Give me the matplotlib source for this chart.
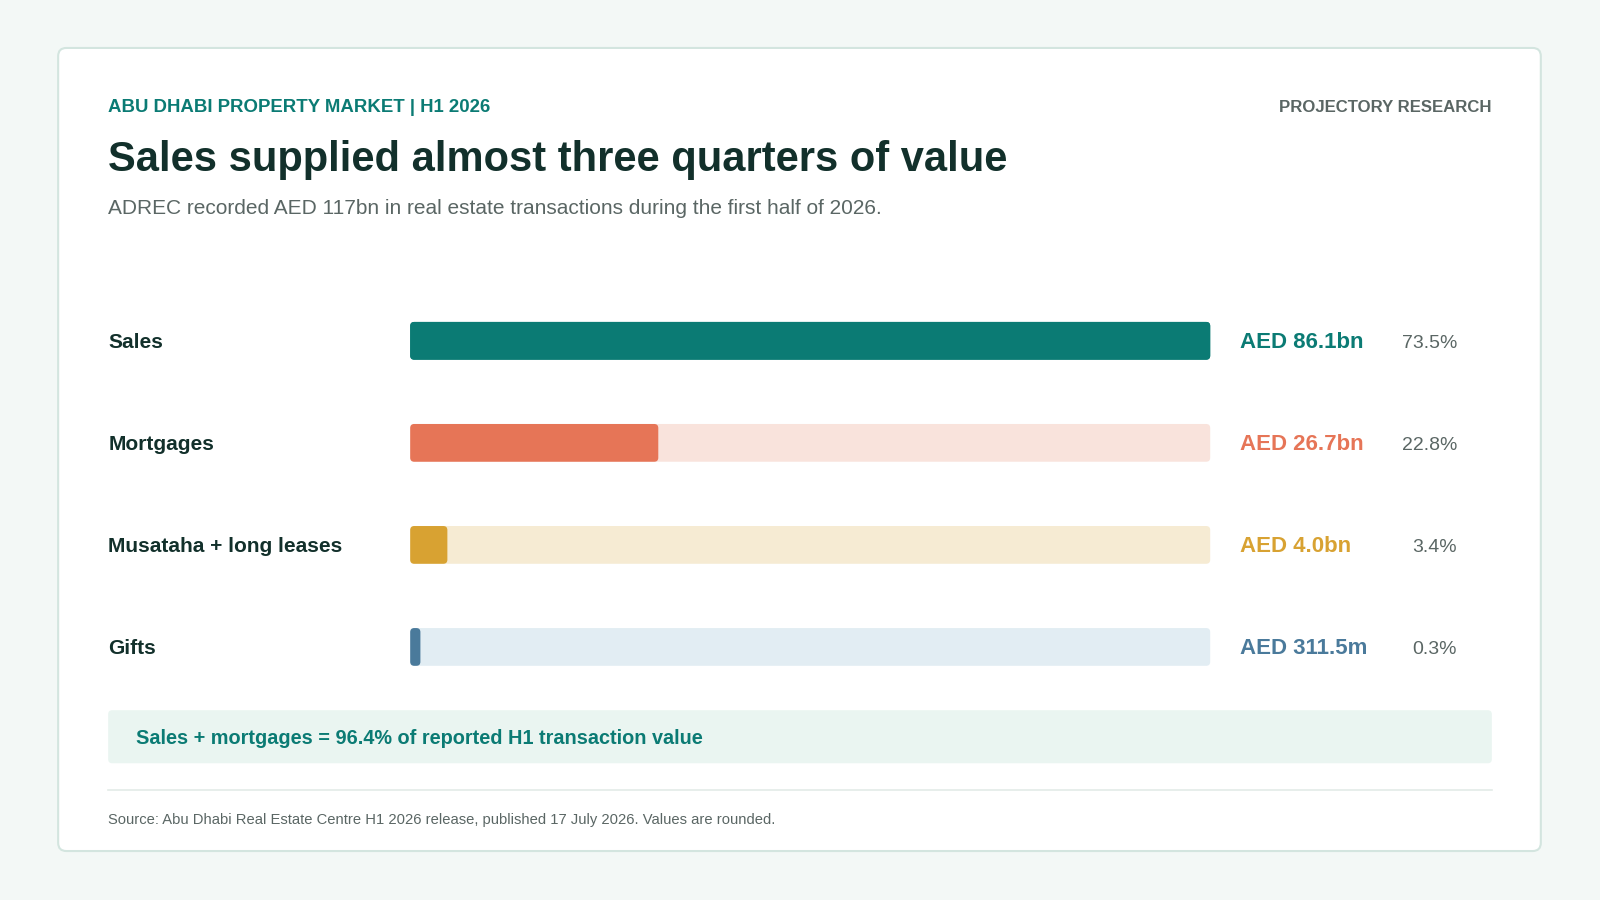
import matplotlib.pyplot as plt
from matplotlib.patches import FancyBboxPatch

plt.rcParams['font.family'] = ['Liberation Sans', 'DejaVu Sans']

categories = ["Sales", "Mortgages", "Musataha + long leases", "Gifts"]
values_bn = [86.1, 26.7, 4.0, 0.3115]
value_labels = ["AED 86.1bn", "AED 26.7bn", "AED 4.0bn", "AED 311.5m"]
shares = ["73.5%", "22.8%", "3.4%", "0.3%"]
colors = ["#0b7b74", "#e67557", "#d8a232", "#4a7a9b"]
tracks = ["#0b7b74", "#f9e3dc", "#f6ebd3", "#e2edf3"]

W, H = 1568, 882
fig = plt.figure(figsize=(16, 9), dpi=100)
fig.patch.set_facecolor("#f3f8f6")
ax = fig.add_axes([0, 0, 1, 1])
ax.set_xlim(0, W)
ax.set_ylim(H, 0)
ax.axis("off")

# card
ax.add_patch(FancyBboxPatch((57, 47), 1453, 787, boxstyle="round,pad=0,rounding_size=8",
                            fc="white", ec="#d3e5df", lw=1.5))

dark = "#12302b"
ax.text(106, 105, "ABU DHABI PROPERTY MARKET | H1 2026", fontsize=13.4, fontweight="bold",
        color="#0b7b74", va="center")
ax.text(1462, 105, "PROJECTORY RESEARCH", fontsize=12.1, fontweight="bold",
        color="#5a6664", va="center", ha="right")
ax.text(106, 157, "Sales supplied almost three quarters of value", fontsize=30, fontweight="bold",
        color=dark, va="center")
ax.text(106, 204, "ADREC recorded AED 117bn in real estate transactions during the first half of 2026.",
        fontsize=15, color="#5a6664", va="center")

x0, track_w, bar_h = 402, 784, 37
vmax = max(values_bn)
for i, (cat, v) in enumerate(zip(categories, values_bn)):
    yc = 334 + i * 100
    ax.text(106, yc + 2, cat, fontsize=15, fontweight="bold", color=dark, va="center")
    ax.add_patch(FancyBboxPatch((x0, yc - bar_h / 2), track_w, bar_h,
                                boxstyle="round,pad=0,rounding_size=4", fc=tracks[i], ec="none"))
    w = max(v / vmax * track_w, 10)
    ax.add_patch(FancyBboxPatch((x0, yc - bar_h / 2), w, bar_h,
                                boxstyle="round,pad=0,rounding_size=4", fc=colors[i], ec="none"))
    ax.text(1215, yc + 2, value_labels[i], fontsize=16, fontweight="bold", color=colors[i], va="center")
    ax.text(1428, yc + 3, shares[i], fontsize=14, color="#5a6664", va="center", ha="right")

# callout
ax.add_patch(FancyBboxPatch((106, 696), 1356, 52, boxstyle="round,pad=0,rounding_size=4",
                            fc="#eaf5f1", ec="none"))
ax.text(133, 724, "Sales + mortgages = 96.4% of reported H1 transaction value", fontsize=14.3,
        fontweight="bold", color="#0b7b74", va="center")

ax.plot([106, 1462], [774, 774], color="#e3ebe8", lw=1.2)
ax.text(106, 804, "Source: Abu Dhabi Real Estate Centre H1 2026 release, published 17 July 2026. Values are rounded.",
        fontsize=10.6, color="#5a6664", va="center")

fig.savefig("out.png", dpi=100, facecolor=fig.get_facecolor())
